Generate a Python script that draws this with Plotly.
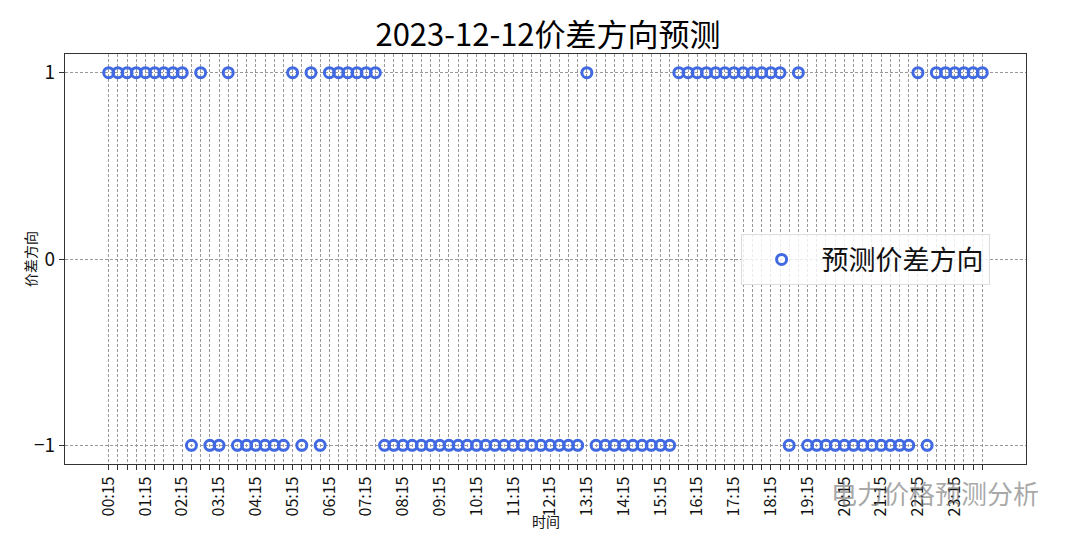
import plotly.graph_objects as go

# Time slots 00:15 ... 24:00 every 15 minutes (96 points)
times = []
for i in range(96):
    m = (i + 1) * 15
    times.append(f"{m // 60:02d}:{m % 60:02d}")

directions = (
    [1] * 9 + [-1] + [1] + [-1] * 2 + [1] + [-1] * 6 + [1] + [-1] + [1] + [-1]
    + [1] * 6 + [-1] * 22 + [1] + [-1] * 9 + [1] * 12 + [-1] + [1] + [-1] * 12
    + [1] + [-1] + [1] * 6
)

tick_text = [t if i % 4 == 0 else "" for i, t in enumerate(times)]
x_idx = list(range(len(times)))

FONT = "Noto Sans CJK SC, sans-serif"

fig = go.Figure()
fig.add_trace(go.Scatter(
    x=x_idx, y=directions, mode="markers", name="预测价差方向",
    marker=dict(symbol="circle-open", size=10, color="#4169E1",
                line=dict(width=3, color="#4169E1")),
))

fig.update_layout(
    width=1080, height=540,
    paper_bgcolor="white", plot_bgcolor="white",
    margin=dict(l=57, r=62, t=46, b=84, autoexpand=False),
    font=dict(family=FONT, color="#111"),
    title=dict(text="2023-12-12价差方向预测", x=0.5, xanchor="center",
               y=0.95, yanchor="middle", font=dict(size=31, family=FONT, color="#000")),
    xaxis=dict(
        range=[-4.75, 99.75], tickmode="array", tickvals=x_idx, ticktext=tick_text,
        tickangle=-90, tickfont=dict(size=16), ticks="outside", ticklen=5, tickcolor="#333",
        showgrid=True, gridcolor="#999999", griddash="3px,2px", gridwidth=1,
        showline=True, linecolor="#333", linewidth=1.2, mirror=True, zeroline=False,
        automargin=False,
    ),
    yaxis=dict(
        range=[-1.1, 1.1], tickmode="array", tickvals=[-1, 0, 1], ticktext=["−1", "0", "1"],
        tickfont=dict(size=19), ticks="outside", ticklen=5, tickcolor="#333",
        showgrid=True, gridcolor="#999999", griddash="3px,2px", gridwidth=1,
        showline=True, linecolor="#333", linewidth=1.2, mirror=True, zeroline=False,
        automargin=False,
    ),
    legend=dict(
        x=0.703, y=0.56, xanchor="left", yanchor="top",
        bgcolor="rgba(255,255,255,0.8)", bordercolor="#dddddd", borderwidth=1,
        font=dict(size=27, family=FONT, color="#111"), itemwidth=70,
    ),
    showlegend=True,
)

# axis titles
fig.add_annotation(text="时间", xref="paper", yref="paper", x=0.5, y=-0.139,
                   xanchor="center", yanchor="middle", showarrow=False,
                   font=dict(size=14, family=FONT, color="#111"))
fig.add_annotation(text="价差方向", xref="paper", yref="paper", x=-0.0364, y=0.5,
                   xanchor="center", yanchor="middle", showarrow=False, textangle=-90,
                   font=dict(size=14, family=FONT, color="#111"))

# watermark overlay seen in the reference
fig.add_annotation(
    text="电力价格预测分析", xref="paper", yref="paper", x=0.795, y=-0.0707,
    xanchor="left", yanchor="middle", showarrow=False,
    font=dict(size=26, family=FONT, color="rgba(110,110,110,0.6)"),
)

fig.write_html("out.html")
